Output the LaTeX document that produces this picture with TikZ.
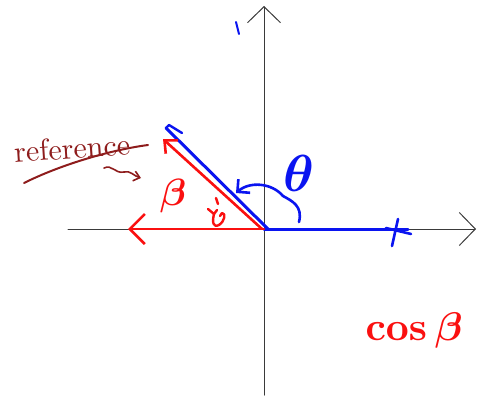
\documentclass[tikz,border=0pt]{standalone}
\usetikzlibrary{arrows.meta,positioning,calc}
\definecolor{ink}{HTML}{1E1E1E}
\definecolor{axisgray}{HTML}{3A3A3A}
\definecolor{penblue}{HTML}{0A14F0}
\definecolor{penred}{HTML}{FA1010}
\definecolor{pendark}{HTML}{8E1C1C}
\tikzset{
  figbase/.style={x=1pt, y=-1pt, line cap=round, line join=round},
  axis/.style={draw=axisgray, line width=1pt,
    -{Straight Barb[length=16pt, width=33pt, line width=1pt]}},
  penb/.style={draw=penblue, line width=3pt},
  penr/.style={draw=penred, line width=2.6pt},
  arrr/.style={penr, -{Straight Barb[length=15pt, width=30pt, line width=2.6pt]}},
  arrrs/.style={penr, -{Straight Barb[length=10pt, width=18pt, line width=2.6pt]}},
  arrb/.style={penb, line width=2.6pt, -{Straight Barb[length=9pt, width=18pt, line width=2.6pt]}},
  lab/.style={inner sep=0pt, anchor=center, transform shape},
}

\begin{document}
\begin{tikzpicture}[figbase]
  \useasboundingbox (0,0) rectangle (478,396);
  % axes
  \coordinate (O) at (264,229);
  \coordinate (xl) at (68,229);
  \coordinate (xr) at (476,229);
  \coordinate (yb) at (264,395);
  \coordinate (yt) at (264,6);
  \draw[axis] (xl) -- (xr);
  \draw[axis] (yb) -- (yt);
  \draw[draw=penblue, line width=2pt] (236,22) .. controls (238,28) .. (239,34);

  % blue vector and its mark
  \coordinate (bx) at (408,229);
  \coordinate (bd) at (166,128);
  \draw[penb] (O) -- (bx);
  \draw[penb, line width=2.6pt] (392,246) -- (398,219);
  \draw[penb, line width=2.6pt] (386,228) -- (411,234);
  \draw[penb] ($(O)+(4,0)$) -- (bd);
  \draw[penb, line width=2.4pt] (bd) -- (169,125) -- (182,133);

  % red reference vectors
  \coordinate (rd) at (163,139);
  \coordinate (rl) at (128,229);
  \draw[arrrs] ($(O)+(-2,0)$) -- (rd);
  \draw[arrr] (O) -- (rl);

  % angles
  \draw[arrb] (299,222) .. controls (303,206) and (292,201) .. (283,196)
    .. controls (272,183) and (250,181) .. (236,193);
  \draw[penr, line width=2.4pt] (216,198) -- (218,204);
  \draw[penr, line width=2.4pt] (208,209) -- (214,214) -- (217,210);
  \draw[penr, line width=2.4pt] (214,214) .. controls (212,222) and (213,228) .. (219,225)
    .. controls (225,221) and (226,213) .. (222,213) -- (220,216);

  % labels
  \node[lab, text=penblue, font=\boldmath, scale=5.2] (theta) at (299,173) {$\theta$};
  \node[lab, text=penred, font=\boldmath, scale=3.8] (beta) at (173,196) {$\beta$};
  \node[lab, text=penred, font=\boldmath, scale=4] (cosb) at (414,330) {$\cos\beta$};
  \node[lab, text=pendark, scale=3, rotate=4] (ref) at (72,148) {reference};
  \draw[draw=pendark, line width=2pt] (24,183) .. controls (60,165) and (110,150) .. (148,145);
  \coordinate (sq) at (104,168);
  \draw[draw=pendark, line width=1.6pt, -{Straight Barb[length=6pt, width=10pt]}]
    (sq) .. controls (112,164) and (115,174) .. (124,172) .. controls (130,170) and (134,176) .. (141,178);
\end{tikzpicture}
\end{document}
